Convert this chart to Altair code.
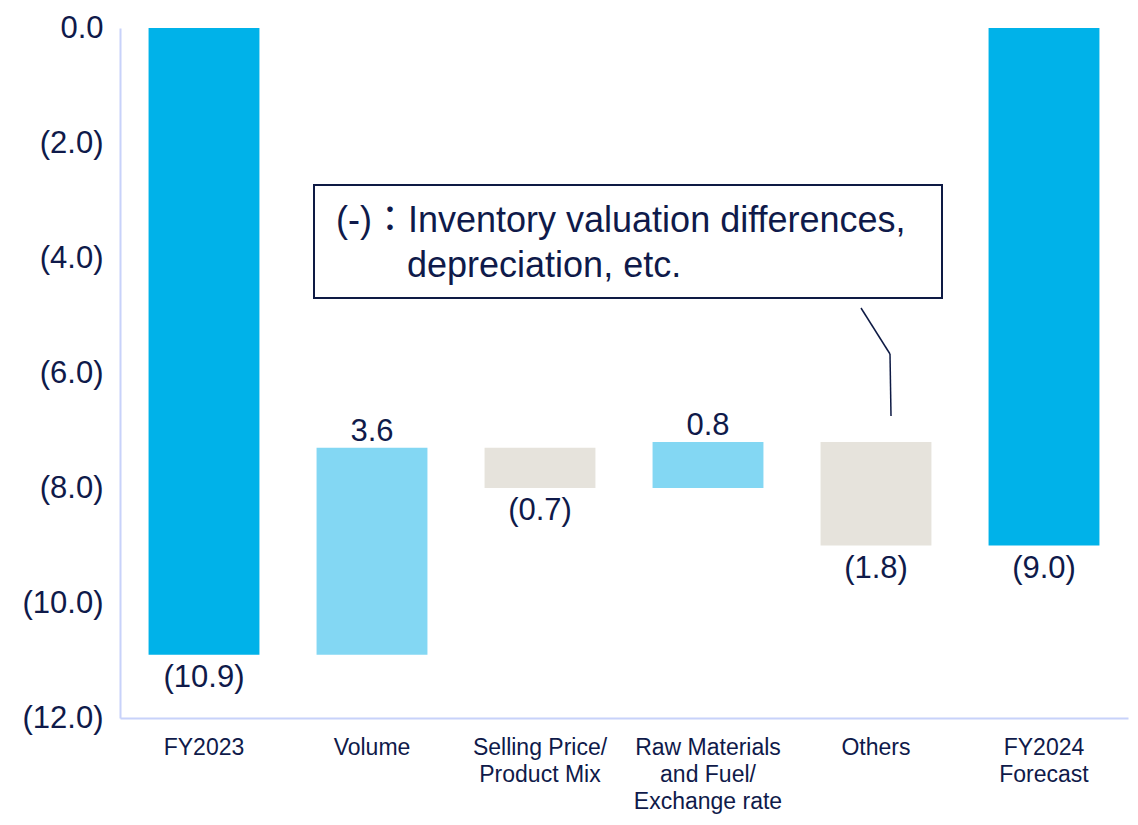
import altair as alt
import pandas as pd

# ---- data ----
categories = ["FY2023", "Volume", "Selling Price/|Product Mix",
              "Raw Materials|and Fuel/|Exchange rate", "Others", "FY2024|Forecast"]
values = [-10.9, 3.6, -0.7, 0.8, -1.8, -9.0]
kinds = ["total", "increase", "decrease", "increase", "decrease", "total"]
y_ticks = [0, -2, -4, -6, -8, -10, -12]
note_line1 = "(-)：Inventory valuation differences,"
note_line2 = "depreciation, etc."

# ---- waterfall table ----
rows = []
running = 0.0
for c, v, k in zip(categories, values, kinds):
    if k == "total":
        start, end = 0.0, v
    else:
        start, end = running, round(running + v, 2)
    running = end
    txt = f"{abs(v):.1f}"
    if v < 0:
        txt = f"({txt})"
    rows.append(dict(cat=c, start=start, end=end, kind=k, label=txt,
                     above=(k != "total" and v > 0),
                     top=max(start, end), bottom=min(start, end)))
df = pd.DataFrame(rows)

NAVY = "#0F1A4A"
AXIS = "#C8D2FA"
FONT = "Liberation Sans"

color_scale = alt.Scale(domain=["total", "increase", "decrease"],
                        range=["#00B2E9", "#83D7F3", "#E6E3DC"])

x_enc = alt.X("cat:N", sort=categories,
              scale=alt.Scale(paddingInner=0.34, paddingOuter=0.17),
              axis=alt.Axis(title=None, labelAngle=0,
                            labelExpr="split(datum.label, '|')",
                            labelFontSize=23, labelLineHeight=27,
                            labelPadding=18, labelColor=NAVY, labelFont=FONT,
                            ticks=False, domainColor=AXIS, domainWidth=2))

y_scale = alt.Scale(domain=[-12, 0], nice=False, zero=False)

base = alt.Chart(df)

bars = base.mark_bar().encode(
    x=x_enc,
    y=alt.Y("start:Q", scale=y_scale,
            axis=alt.Axis(title=None, values=y_ticks,
                          labelExpr="datum.value < 0 ? '(' + format(-datum.value, '.1f') + ')' : format(datum.value, '.1f')",
                          labelFontSize=31, labelPadding=17, labelColor=NAVY,
                          labelFont=FONT, labelFlush=False, labelOverlap=False,
                          ticks=False, grid=False, domainColor=AXIS, domainWidth=2)),
    y2="end:Q",
    color=alt.Color("kind:N", scale=color_scale, legend=None),
)

lab_above = base.transform_filter("datum.above").mark_text(
    baseline="alphabetic", dy=-7, fontSize=31, font=FONT, color=NAVY
).encode(x=alt.X("cat:N", sort=categories), y=alt.Y("top:Q", scale=y_scale), text="label:N")

lab_below = base.transform_filter("!datum.above").mark_text(
    baseline="alphabetic", dy=32, fontSize=31, font=FONT, color=NAVY
).encode(x=alt.X("cat:N", sort=categories), y=alt.Y("bottom:Q", scale=y_scale), text="label:N")

# ---- callout (fixed annotation) ----
one = pd.DataFrame({"k": [0]})
box = alt.Chart(one).mark_rect(fill="white", stroke="#0E1A44", strokeWidth=2).encode(
    x=alt.value(194), x2=alt.value(822), y=alt.value(157), y2=alt.value(270))
t1 = alt.Chart(one).mark_text(align="left", baseline="alphabetic", fontSize=36,
                              font="Liberation Sans, Noto Sans CJK JP", color=NAVY).encode(
    x=alt.value(216), y=alt.value(204), text=alt.value(note_line1))
t2 = alt.Chart(one).mark_text(align="left", baseline="alphabetic", fontSize=36,
                              font=FONT, color=NAVY).encode(
    x=alt.value(287), y=alt.value(249), text=alt.value(note_line2))
c1 = alt.Chart(one).mark_rule(color="#0E1A44", strokeWidth=1.5).encode(
    x=alt.value(741), y=alt.value(280), x2=alt.value(770), y2=alt.value(326))
c2 = alt.Chart(one).mark_rule(color="#0E1A44", strokeWidth=1.5).encode(
    x=alt.value(770), y=alt.value(326), x2=alt.value(771), y2=alt.value(388))

chart = alt.layer(bars, lab_above, lab_below, c1, c2, box, t1, t2).properties(
    width=1008, height=690,
    autosize=alt.AutoSizeParams(type="none"),
    padding={"left": 112, "top": 20, "right": 2, "bottom": 104},
).configure_view(stroke=None)

chart.save("out.html", embed_options={"renderer": "svg", "actions": False})
